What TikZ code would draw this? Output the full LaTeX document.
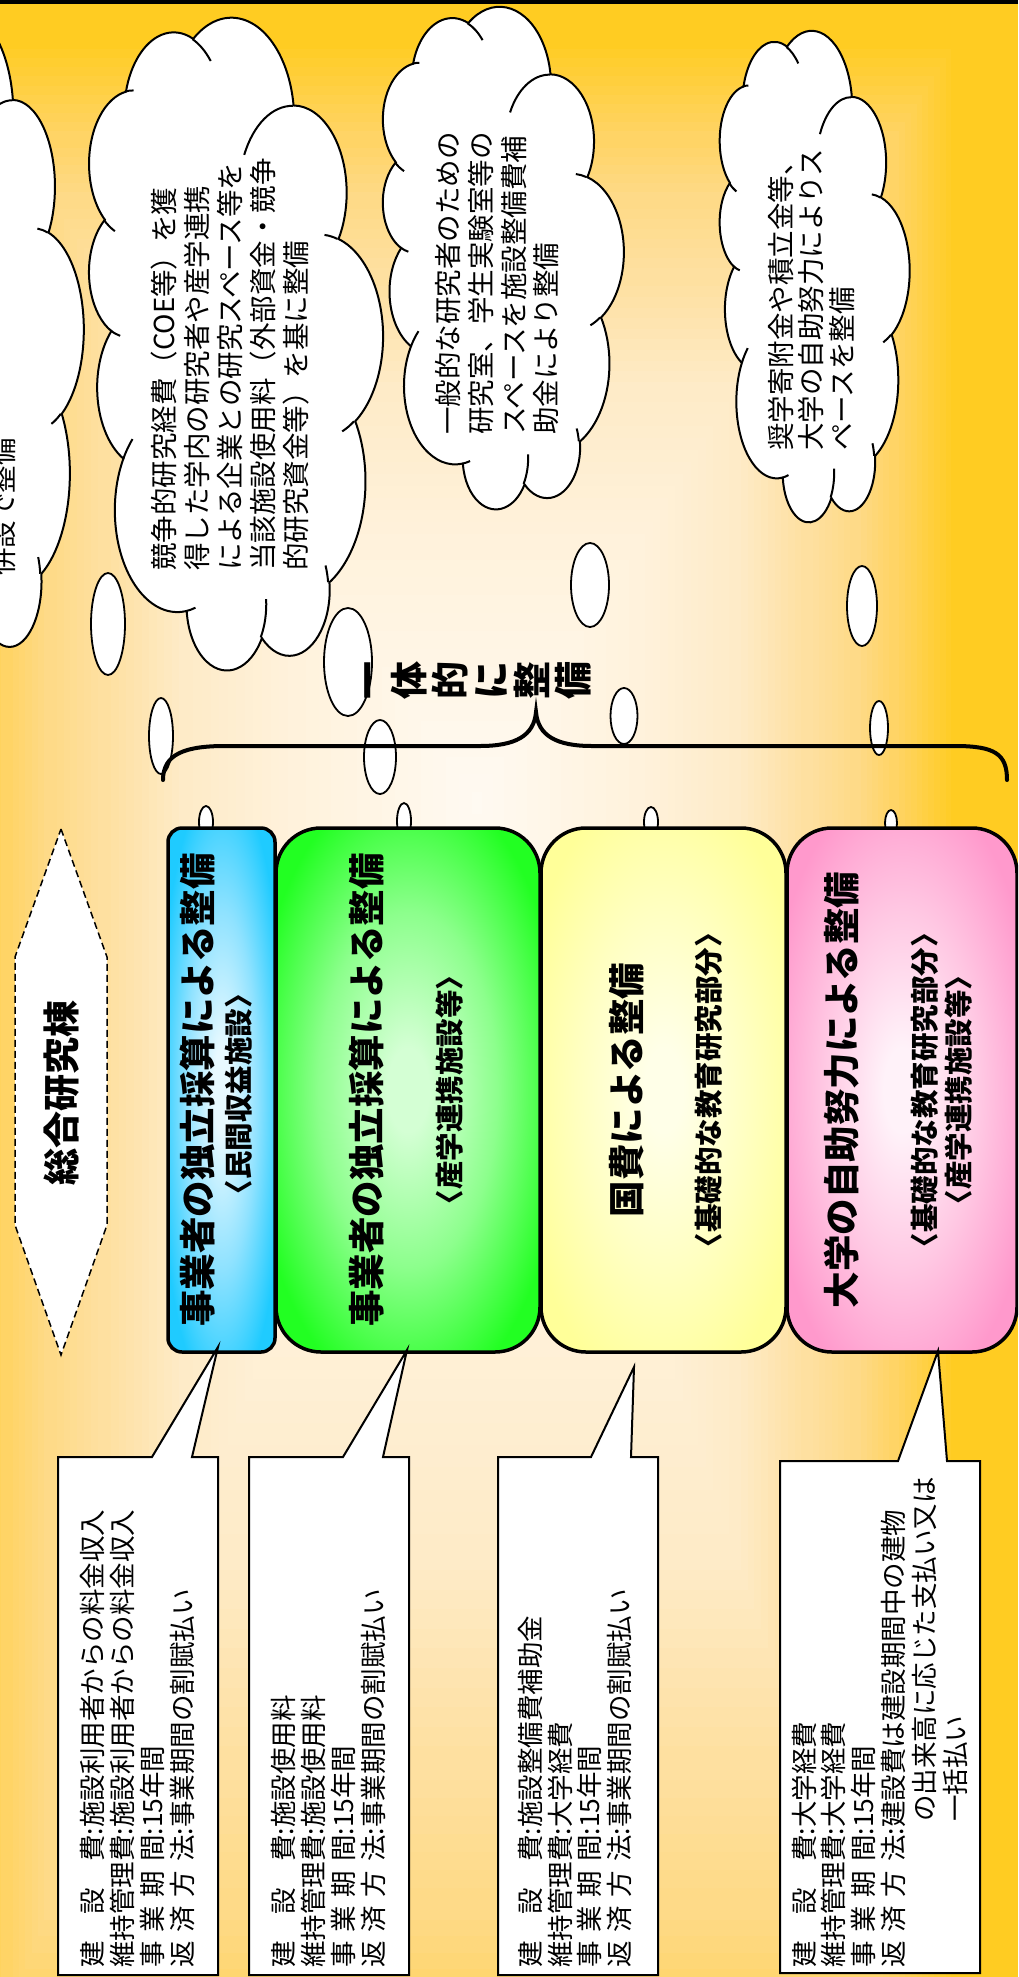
\documentclass[tikz,border=0pt]{standalone}
\usepackage{fontspec}
\setmainfont{Noto Sans CJK JP}
\definecolor{g0}{HTML}{FFFAF2}
\definecolor{g1}{HTML}{FFF2DC}
\definecolor{g2}{HTML}{FEEBC8}
\definecolor{g3}{HTML}{FEE0A0}
\definecolor{g4}{HTML}{FEDA88}
\definecolor{g5}{HTML}{FFD466}
\definecolor{g6}{HTML}{FFCC22}
\definecolor{bluein}{HTML}{E8F9FF}
\definecolor{bluemid}{HTML}{8FE2FF}
\definecolor{blueout}{HTML}{1FCBFF}
\definecolor{greenin}{HTML}{D4FFD4}
\definecolor{greenmid}{HTML}{8CFF8C}
\definecolor{greenout}{HTML}{22FF22}
\definecolor{yelin}{HTML}{FFFFE8}
\definecolor{yelmid}{HTML}{FFFFC2}
\definecolor{yelout}{HTML}{FFFF99}
\definecolor{pinkin}{HTML}{FFF2F9}
\definecolor{pinkmid}{HTML}{FFC8E3}
\definecolor{pinkout}{HTML}{FF99CC}
\pgfdeclareradialshading{blueshade}{\pgfpoint{0bp}{0bp}}{color(0bp)=(bluein); color(4bp)=(bluein); color(17bp)=(bluemid); color(30bp)=(blueout); color(50bp)=(blueout)}
\pgfdeclareradialshading{greenshade}{\pgfpoint{0bp}{0bp}}{color(0bp)=(greenin); color(4bp)=(greenin); color(17bp)=(greenmid); color(30bp)=(greenout); color(50bp)=(greenout)}
\pgfdeclareradialshading{yelshade}{\pgfpoint{0bp}{0bp}}{color(0bp)=(yelin); color(4bp)=(yelin); color(17bp)=(yelmid); color(30bp)=(yelout); color(50bp)=(yelout)}
\pgfdeclareradialshading{pinkshade}{\pgfpoint{0bp}{0bp}}{color(0bp)=(pinkin); color(4bp)=(pinkin); color(17bp)=(pinkmid); color(30bp)=(pinkout); color(50bp)=(pinkout)}
\tikzset{
  cloudline/.style={draw=black,fill=white,line width=2pt},
  stubline/.style={draw=black,line width=2pt},
  bubble/.style={draw=black,fill=white,line width=1.8pt},
  cloudtxt/.style={rotate=90,inner sep=0pt,anchor=west,font=\fontsize{27.5}{33}\selectfont,text height=24.2pt,text depth=3.3pt},
  calltxt/.style={rotate=90,inner sep=0pt,anchor=west,font=\fontsize{26.5}{30}\selectfont,text height=23.3pt,text depth=3.2pt},
  mainbold/.style={rotate=90,inner sep=0pt,anchor=center,font=\fontsize{36.5}{40}\selectfont\bfseries,text height=32.1pt,text depth=4.4pt},
  subbold/.style={rotate=90,inner sep=0pt,anchor=center,font=\fontsize{28.5}{32}\selectfont\bfseries,text height=25.1pt,text depth=3.4pt},
  hextxt/.style={rotate=90,inner sep=0pt,anchor=center,font=\fontsize{37}{40}\selectfont\bfseries,text height=32.6pt,text depth=4.4pt},
  boxline/.style={draw=black,line width=3.5pt,inner sep=0pt,minimum height=524pt},
  callout/.style={draw=black,fill=white,line width=2pt,line join=miter},
}
\newcommand\lbthree[3]{\makebox[5em][s]{#1\hfill#2\hfill#3}}
\newcommand\lbfour[4]{\makebox[5em][s]{#1\hfill#2\hfill#3\hfill#4}}
% background: concentric rectangles (rectangular gradient), #1 t start, #2 t end, #3 colour at start, #4 colour at end, #5 steps
\newcommand\rectseg[5]{%
\foreach \ii in {0,...,#5}{%
  \pgfmathsetmacro\rr{#1-(#1-#2)*\ii/#5}%
  \pgfmathsetmacro\pp{100*\ii/#5}%
  \fill[#4!\pp!#3] ({477-541*\rr},{800-760*\rr}) rectangle ({477+480*\rr},{800+1400*\rr});
}}
% elliptical radial fill of a rounded box: #1 shading, #2 x1, #3 y1, #4 x2, #5 y2, #6 corner radius
\newcommand\boxfill[6]{%
\begin{scope}
\path[clip,rounded corners=#6pt] (#2,#3) rectangle (#4,#5);
\begin{scope}[transform canvas={xscale={(#4-#2)/(#5-#3)}}]
\shade[shading=#1] ({(#2+#4)/2/(#4-#2)*(#5-#3)-(#5-#3)/2},#3) rectangle ({(#2+#4)/2/(#4-#2)*(#5-#3)+(#5-#3)/2},#5);
\end{scope}
\end{scope}}
\newcommand\pptcloud[4]{%
\begin{scope}[shift={(#1,#2+#4)},x={(0pt,{#4/4320*1pt})},y={({#3/4320*1pt},0pt)}]
\path[cloudline] (390,1437)
 arc[start angle=172.25,end angle=300.36,x radius=675.3,y radius=919.0]
 arc[start angle=-152.02,end angle=-45.43,x radius=533.3,y radius=726.7]
 arc[start angle=-153.48,end angle=-37.32,x radius=436.5,y radius=594.5]
 arc[start angle=-139.72,end angle=-10.22,x radius=485.7,y radius=659.5]
 arc[start angle=-74.77,end angle=23.21,x radius=533.3,y radius=727.3]
 arc[start angle=-37.53,end angle=81.86,x radius=677.5,y radius=922.0]
 arc[start angle=0.46,end angle=121.98,x radius=578.5,y radius=786.7]
 arc[start angle=16.84,end angle=146.23,x radius=675.2,y radius=921.5]
 arc[start angle=58.98,end angle=150.18,x radius=772.0,y radius=1054.3]
 arc[start angle=83.31,end angle=223.11,x radius=436.0,y radius=591.8]
 arc[start angle=120.36,end angle=264.11,x radius=434.5,y radius=594.5]
 -- cycle;
\draw[stubline] (469.3,2617.7) arc[start angle=85.54,end angle=120.36,x radius=434.5,y radius=594.5];
\draw[stubline] (692.8,3489.9) arc[start angle=68.23,end angle=83.31,x radius=436.0,y radius=591.8];
\draw[stubline] (1647.8,3909.0) arc[start angle=146.23,end angle=158.47,x radius=675.2,y radius=921.5];
\draw[stubline] (2882.7,3475.1) arc[start angle=4.73,end angle=16.84,x radius=675.2,y radius=921.5];
\draw[stubline] (3412.9,2295.4) arc[start angle=-64.03,end angle=0.46,x radius=578.5,y radius=786.7];
\draw[stubline] (4179.8,1535.4) arc[start angle=23.21,end angle=49.64,x radius=533.3,y radius=727.3];
\draw[stubline] (3832.4,542.6) arc[start angle=-10.22,end angle=0.83,x radius=485.7,y radius=659.5];
\draw[stubline] (2907.8,395.2) arc[start angle=-156.28,end angle=-139.72,x radius=485.7,y radius=659.5];
\draw[stubline] (2214.1,472.0) arc[start angle=-167.72,end angle=-153.48,x radius=436.5,y radius=594.5];
\draw[stubline] (1400.0,519.2) arc[start angle=-59.64,end angle=-45.75,x radius=675.3,y radius=919.0];
\draw[stubline] (412.7,1578.9) arc[start angle=163.19,end angle=172.25,x radius=675.3,y radius=919.0];
\end{scope}}
\begin{document}
\begin{tikzpicture}[x=1pt,y=-1pt]
\useasboundingbox (0,0) rectangle (1018,1977);
\begin{scope}
\clip (0,0) rectangle (1018,1977);
\fill[g6] (0,0) rectangle (1018,1977);
\rectseg{1.00}{0.88}{g6}{g5}{10}
\rectseg{0.87}{0.80}{g5}{g4}{6}
\rectseg{0.79}{0.70}{g4}{g3}{7}
\rectseg{0.69}{0.55}{g3}{g2}{10}
\rectseg{0.54}{0.35}{g2}{g1}{12}
\rectseg{0.34}{0.01}{g1}{g0}{14}
\fill[black] (0,0) rectangle (1018,4);
% clouds
\pptcloud{-150}{13}{233}{648}
\pptcloud{88}{18}{294}{652}
\pptcloud{382}{7}{241}{502}
\pptcloud{719}{31}{190}{491}
% cloud texts
\node[cloudtxt] (k1a) at (3,576) {併設で整備};
\node[cloudtxt] (k2a) at (164,571) {競争的研究経費（COE等）を獲};
\node[cloudtxt] (k2b) at (197,571) {得した学内の研究者や産学連携};
\node[cloudtxt] (k2c) at (230,571) {による企業との研究スペース等を};
\node[cloudtxt] (k2d) at (263,571) {当該施設使用料（外部資金・競争};
\node[cloudtxt] (k2e) at (296,571) {的研究資金等）を基に整備};
\node[cloudtxt] (k3a) at (448,435) {一般的な研究者のための};
\node[cloudtxt] (k3b) at (481,435) {研究室、学生実験室等の};
\node[cloudtxt] (k3c) at (514,435) {スペースを施設整備費補};
\node[cloudtxt] (k3d) at (546,435) {助金により整備};
\node[cloudtxt] (k4a) at (781,451) {奨学寄附金や積立金等、};
\node[cloudtxt] (k4b) at (811,451) {大学の自助努力によりス};
\node[cloudtxt] (k4c) at (842,451) {ペースを整備};
% bubbles
\draw[bubble] (108,624) ellipse [x radius=17,y radius=51];
\draw[bubble] (161,736) ellipse [x radius=12,y radius=38];
\draw[bubble] (206,822) ellipse [x radius=7,y radius=16];
\draw[bubble] (348,662) ellipse [x radius=24,y radius=54];
\draw[bubble] (380,757) ellipse [x radius=16,y radius=37];
\draw[bubble] (404,821) ellipse [x radius=7,y radius=18];
\draw[bubble] (590,585) ellipse [x radius=19,y radius=42];
\draw[bubble] (624,716) ellipse [x radius=13.5,y radius=28];
\draw[bubble] (651,822) ellipse [x radius=7,y radius=15];
\draw[bubble] (862,606) ellipse [x radius=15,y radius=40];
\draw[bubble] (879,728) ellipse [x radius=9,y radius=27];
\draw[bubble] (891,823) ellipse [x radius=6,y radius=13];
% brace
\draw[line width=4pt,line cap=round] (163,780) .. controls (163,754) and (185,746) .. (225,746) -- (480,746) .. controls (515,746) and (534,736) .. (536,712) .. controls (538,736) and (557,746) .. (592,746) -- (955,746) .. controls (995,746) and (1007,754) .. (1007,780);
\node[rotate=90,inner sep=0pt,align=center,font=\fontsize{38}{41}\selectfont\bfseries] (ittai) at (477.5,680) {一\\体\\的\\に\\整\\備};
% boxes
\boxfill{blueshade}{168}{828}{275}{1352}{14}
\boxfill{greenshade}{276}{828}{540}{1352}{45}
\boxfill{yelshade}{541}{828}{786}{1352}{45}
\boxfill{pinkshade}{787}{828}{1017}{1352}{45}
\node[boxline,rounded corners=14pt,minimum width=107pt] (bluebox) at (221.5,1090) {};
\node[boxline,rounded corners=45pt,minimum width=264pt] (greenbox) at (408,1090) {};
\node[boxline,rounded corners=45pt,minimum width=245pt] (yelbox) at (663.5,1090) {};
\node[boxline,rounded corners=45pt,minimum width=230pt] (pinkbox) at (902,1090) {};
\node[mainbold] (b1a) at (198,1090) {事業者の独立採算による整備};
\node[subbold] (b1b) at (239,1094) {〈民間収益施設〉};
\node[mainbold] (b2a) at (367,1090) {事業者の独立採算による整備};
\node[subbold] (b2b) at (450,1090) {〈産学連携施設等〉};
\node[mainbold] (b3a) at (627,1090) {国費による整備};
\node[subbold] (b3b) at (709,1090) {〈基礎的な教育研究部分〉};
\node[mainbold] (b4a) at (842,1090) {大学の自助努力による整備};
\node[subbold] (b4b) at (925,1090) {〈基礎的な教育研究部分〉};
\node[subbold] (b4c) at (959,1090) {〈産学連携施設等〉};
% hexagon
\filldraw[fill=white,draw=black,line width=1.5pt,dash pattern=on 7pt off 4pt] (61,829) -- (107,957) -- (107,1225) -- (61,1355) -- (15,1225) -- (15,957) -- cycle;
\node[hextxt] (sogo) at (61,1093) {総合研究棟};
% callouts
\coordinate (ap1) at (218,1347);
\coordinate (ap2) at (407,1350);
\coordinate (ap3) at (634,1367);
\coordinate (ap4) at (938,1351);
\path[callout] (58,1457) -- (152,1457) -- (ap1) -- (192,1457) -- (218,1457) -- (218,1975) -- (58,1975) -- cycle;
\path[callout] (249,1457) -- (343,1457) -- (ap2) -- (383,1457) -- (409,1457) -- (409,1975) -- (249,1975) -- cycle;
\path[callout] (498,1457) -- (591,1457) -- (ap3) -- (631,1457) -- (658,1457) -- (658,1975) -- (498,1975) -- cycle;
\path[callout] (780,1461) -- (898,1461) -- (ap4) -- (947,1461) -- (980,1461) -- (980,1973) -- (780,1973) -- cycle;
\node[calltxt] (t1a) at (92,1968) {\lbthree{建}{設}{費}:施設利用者からの料金収入};
\node[calltxt] (t1b) at (122,1968) {\makebox[5em][s]{維持管理費}:施設利用者からの料金収入};
\node[calltxt] (t1c) at (152,1968) {\lbfour{事}{業}{期}{間}:15年間};
\node[calltxt] (t1d) at (182,1968) {\lbfour{返}{済}{方}{法}:事業期間の割賦払い};
\node[calltxt] (t2a) at (283,1968) {\lbthree{建}{設}{費}:施設使用料};
\node[calltxt] (t2b) at (313,1968) {\makebox[5em][s]{維持管理費}:施設使用料};
\node[calltxt] (t2c) at (343,1968) {\lbfour{事}{業}{期}{間}:15年間};
\node[calltxt] (t2d) at (373,1968) {\lbfour{返}{済}{方}{法}:事業期間の割賦払い};
\node[calltxt] (t3a) at (530,1968) {\lbthree{建}{設}{費}:施設整備費補助金};
\node[calltxt] (t3b) at (560,1968) {\makebox[5em][s]{維持管理費}:大学経費};
\node[calltxt] (t3c) at (589,1968) {\lbfour{事}{業}{期}{間}:15年間};
\node[calltxt] (t3d) at (619,1968) {\lbfour{返}{済}{方}{法}:事業期間の割賦払い};
\node[calltxt] (t4a) at (804,1968) {\lbthree{建}{設}{費}:大学経費};
\node[calltxt] (t4b) at (833,1968) {\makebox[5em][s]{維持管理費}:大学経費};
\node[calltxt] (t4c) at (863,1968) {\lbfour{事}{業}{期}{間}:15年間};
\node[calltxt] (t4d) at (893,1968) {\lbfour{返}{済}{方}{法}:建設費は建設期間中の建物};
\node[calltxt] (t4e) at (924,1822) {の出来高に応じた支払い又は};
\node[calltxt] (t4f) at (955,1822) {一括払い};
\end{scope}
\end{tikzpicture}
\end{document}
